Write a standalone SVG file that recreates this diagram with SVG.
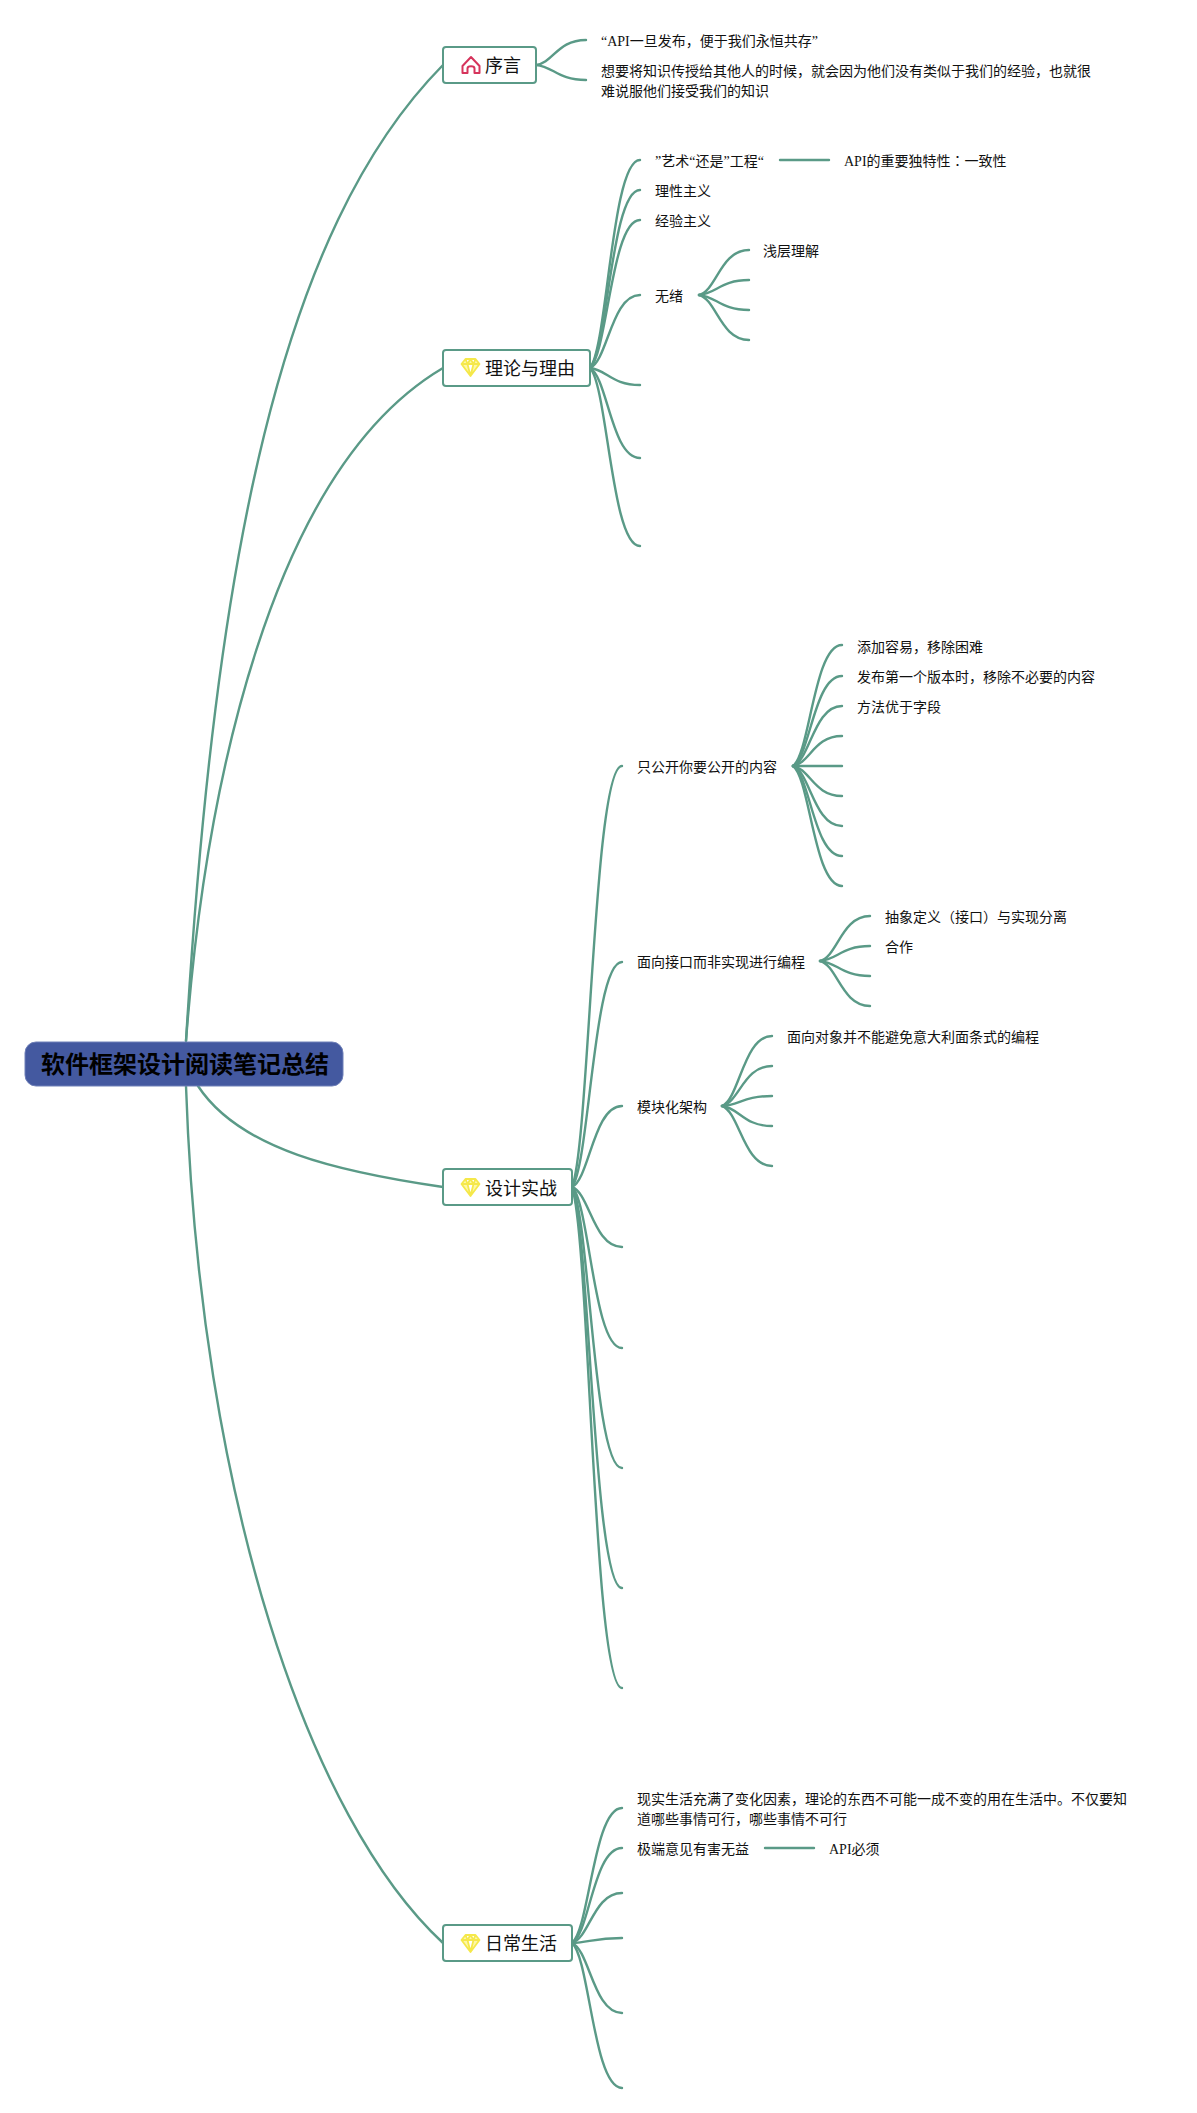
<svg xmlns="http://www.w3.org/2000/svg" width="1197" height="2113" viewBox="0 0 1197 2113">
<style>
text{font-family:"Liberation Serif","Noto Sans CJK SC",serif;fill:#111}
.t{font-size:14px}
.n{font-size:18px}
.r{font-size:24px;font-weight:700;fill:#000;font-family:"Liberation Sans","Noto Sans CJK SC",sans-serif}
.box{fill:#fff;stroke:#5a9a87;stroke-width:2}
.tc{font-family:"Noto Sans CJK TC",sans-serif}
#connectors path{fill:none;stroke:#5a9a87;stroke-width:2.4;stroke-linecap:round}
.gem{fill:#fdf7a8;stroke:#f5e84a;stroke-width:1.8;stroke-linejoin:round}
</style>
<defs>
<g id="gem"><path class="gem" d="M-9 -3L-5 -8H5L9 -3L0 9Z M-9 -3H9 M-5 -8L-3 -3L0 9L3 -3L5 -8 M-3 -3L0 -8L3 -3"/></g>
</defs>
<rect width="1197" height="2113" fill="#fff"/>
<g id="connectors">
<path d="M186 1041C215 560 280 230 443 65"/>
<path d="M186 1041C205 790 270 470 443 368"/>
<path d="M198 1086C240 1150 340 1172 443 1187"/>
<path d="M186 1086C200 1500 310 1820 443 1943"/>
<path d="M536 65C553.500 62.500 557.500 40 586 40"/>
<path d="M536 65C553.500 66.500 557.500 80 586 80"/>
<path d="M590 368C607.500 347 611.500 160 640 160"/>
<path d="M590 368C607.500 350 611.500 190 640 190"/>
<path d="M590 368C607.500 353 611.500 220 640 220"/>
<path d="M590 368C607.500 361 611.500 295 640 295"/>
<path d="M590 368C607.500 370 611.500 385 640 385"/>
<path d="M590 368C607.500 377 611.500 458 640 458"/>
<path d="M590 368C607.500 386 611.500 546 640 546"/>
<path d="M780 160H829"/>
<path d="M699 295C716.500 290.500 720.500 250 749 250"/>
<path d="M699 295C716.500 293.500 720.500 280 749 280"/>
<path d="M699 295C716.500 296.500 720.500 310 749 310"/>
<path d="M699 295C716.500 299.500 720.500 340 749 340"/>
<path d="M572 1187C589.500 1145 593.500 766 622 766"/>
<path d="M572 1187C589.500 1164.500 593.500 962 622 962"/>
<path d="M572 1187C589.500 1179 593.500 1106 622 1106"/>
<path d="M572 1187C589.500 1193 593.500 1247 622 1247"/>
<path d="M572 1187C589.500 1203 593.500 1348 622 1348"/>
<path d="M572 1187C589.500 1215 593.500 1468 622 1468"/>
<path d="M572 1187C589.500 1227 593.500 1588 622 1588"/>
<path d="M572 1187C589.500 1237 593.500 1688 622 1688"/>
<path d="M793 766C810 754 814 645 842 645"/>
<path d="M793 766C810 757 814 676 842 676"/>
<path d="M793 766C810 760 814 706 842 706"/>
<path d="M793 766C810 763 814 736 842 736"/>
<path d="M793 766H842"/>
<path d="M793 766C810 769 814 796 842 796"/>
<path d="M793 766C810 772 814 826 842 826"/>
<path d="M793 766C810 775 814 856 842 856"/>
<path d="M793 766C810 778 814 886 842 886"/>
<path d="M820 961C837.500 956.500 841.500 916 870 916"/>
<path d="M820 961C837.500 959.500 841.500 946 870 946"/>
<path d="M820 961C837.500 962.500 841.500 976 870 976"/>
<path d="M820 961C837.500 965.500 841.500 1006 870 1006"/>
<path d="M722 1106C739.500 1099 743.500 1036 772 1036"/>
<path d="M722 1106C739.500 1102 743.500 1066 772 1066"/>
<path d="M722 1106C739.500 1105 743.500 1096 772 1096"/>
<path d="M722 1106C739.500 1108 743.500 1126 772 1126"/>
<path d="M722 1106C739.500 1112 743.500 1166 772 1166"/>
<path d="M572 1943C589.500 1929.500 593.500 1808 622 1808"/>
<path d="M572 1943C589.500 1933.500 593.500 1848 622 1848"/>
<path d="M572 1943C589.500 1938 593.500 1893 622 1893"/>
<path d="M572 1943C589.500 1942.500 593.500 1938 622 1938"/>
<path d="M572 1943C589.500 1950 593.500 2013 622 2013"/>
<path d="M572 1943C589.500 1957.500 593.500 2088 622 2088"/>
<path d="M765 1848H814"/>
</g>
<g id="root"><rect x="25" y="1042" width="318" height="44" rx="11" fill="#4459a0" stroke="#6f80b8"/><text class="r" x="41" y="1073">软件框架设计阅读笔记总结</text></g>
<g id="n-xuyan"><rect class="box" x="443" y="47" width="93" height="36" rx="3"/>
<path d="M471 57L462.500 66V73H467.500V68.500C467.500 65.500 474.500 65.500 474.500 68.500V73H479.500V66Z" fill="none" stroke="#d6345c" stroke-width="2" stroke-linejoin="round"/>
<text class="n" x="485" y="72">序言</text></g>
<g id="n-lilun"><rect class="box" x="443" y="350" width="147" height="36" rx="3"/><use href="#gem" x="470.500" y="367"/><text class="n" x="485" y="375">理论与理由</text></g>
<g id="n-sheji"><rect class="box" x="443" y="1169" width="129" height="36" rx="3"/><use href="#gem" x="470.500" y="1187"/><text class="n" x="485" y="1195">设计实战</text></g>
<g id="n-richang"><rect class="box" x="443" y="1925" width="129" height="36" rx="3"/><use href="#gem" x="470.500" y="1943"/><text class="n" x="485" y="1950">日常生活</text></g>
<g id="labels" transform="translate(-1 -0.5)">
<text class="t" x="602" y="46">“API一旦发布，便于我们永恒共存”</text>
<text class="t" x="602" y="76">想要将知识传授给其他人的时候，就会因为他们没有类似于我们的经验，也就很</text>
<text class="t" x="602" y="96">难说服他们接受我们的知识</text>
<text class="t" x="656" y="166">”艺术“还是”工程“</text>
<text class="t" x="845" y="166">API的重要独特性<tspan class="tc">：</tspan>一致性</text>
<text class="t" x="656" y="196">理性主义</text>
<text class="t" x="656" y="226">经验主义</text>
<text class="t" x="656" y="301">无绪</text>
<text class="t" x="764" y="256">浅层理解</text>
<text class="t" x="638" y="772">只公开你要公开的内容</text>
<text class="t" x="858" y="652">添加容易，移除困难</text>
<text class="t" x="858" y="682">发布第一个版本时，移除不必要的内容</text>
<text class="t" x="858" y="712">方法优于字段</text>
<text class="t" x="638" y="967">面向接口而非实现进行编程</text>
<text class="t" x="886" y="922">抽象定义（接口）与实现分离</text>
<text class="t" x="886" y="952">合作</text>
<text class="t" x="638" y="1112">模块化架构</text>
<text class="t" x="788" y="1042">面向对象并不能避免意大利面条式的编程</text>
<text class="t" x="638" y="1804">现实生活充满了变化因素，理论的东西不可能一成不变的用在生活中。不仅要知</text>
<text class="t" x="638" y="1824">道哪些事情可行，哪些事情不可行</text>
<text class="t" x="638" y="1854">极端意见有害无益</text>
<text class="t" x="830" y="1854">API必须</text>
</g>
</svg>
